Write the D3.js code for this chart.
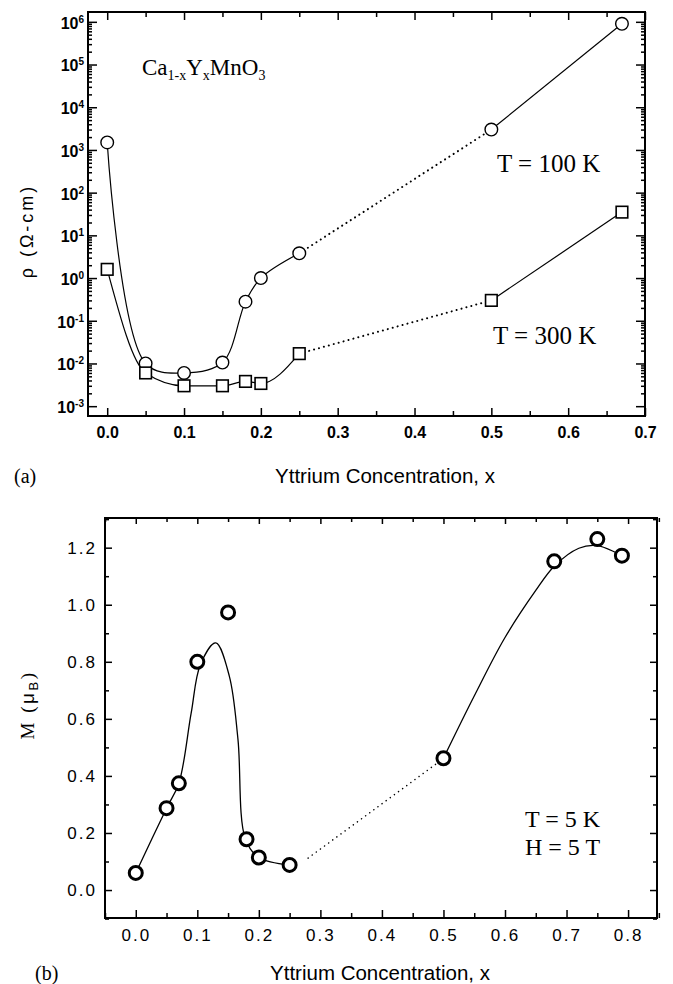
<!DOCTYPE html>
<html>
<head>
<meta charset="utf-8">
<script src="https://cdn.jsdelivr.net/npm/d3@7"></script>
<style>
  body { margin: 0; background: #fff; }
  .sans { font-family: "Liberation Sans", Arial, sans-serif; }
  .serif { font-family: "Liberation Serif", "Times New Roman", serif; }
</style>
</head>
<body>
<svg id="chart" width="673" height="984"></svg>
<script>
// ---- panel (a): resistivity vs Y concentration ----
const rhoX   = [0.00, 0.05, 0.10, 0.15, 0.18, 0.20, 0.25, 0.50, 0.67];
const rho100 = [1.5e3, 1.0e-2, 6.0e-3, 1.05e-2, 0.28, 1.0, 3.8, 3.0e3, 9.0e5];
const rho300 = [1.6, 6.0e-3, 3.0e-3, 3.0e-3, 3.8e-3, 3.4e-3, 1.7e-2, 0.3, 35];
const rhoXTicks = [0, 0.1, 0.2, 0.3, 0.4, 0.5, 0.6, 0.7];
const rhoDecades = [-3, -2, -1, 0, 1, 2, 3, 4, 5, 6];

// ---- panel (b): magnetization at 5 K, 5 T ----
const magX = [0.00, 0.05, 0.07, 0.10, 0.15, 0.18, 0.20, 0.25, 0.50, 0.68, 0.75, 0.79];
const magM = [0.06, 0.287, 0.374, 0.80, 0.973, 0.178, 0.114, 0.088, 0.462, 1.152, 1.23, 1.172];
// guide-to-the-eye curves
const fitLowX  = [0.00, 0.05, 0.07, 0.09, 0.105, 0.13, 0.152, 0.166, 0.178, 0.20, 0.25];
const fitLowM  = [0.06, 0.287, 0.374, 0.62, 0.79, 0.866, 0.75, 0.53, 0.18, 0.114, 0.088];
const fitDotX  = [0.28, 0.49];
const fitDotM  = [0.112, 0.445];
const fitHighX = [0.50, 0.55, 0.60, 0.65, 0.68, 0.72, 0.75, 0.79];
const fitHighM = [0.462, 0.68, 0.885, 1.05, 1.135, 1.198, 1.207, 1.172];
const magXTicks = [0, 0.1, 0.2, 0.3, 0.4, 0.5, 0.6, 0.7, 0.8];
const magYTicks = [0, 0.2, 0.4, 0.6, 0.8, 1.0, 1.2];

const svg = d3.select("#chart");

function frame(g, x0, y0, x1, y1) {
  g.append("rect")
    .attr("x", x0).attr("y", y0)
    .attr("width", x1 - x0).attr("height", y1 - y0)
    .attr("fill", "none").attr("stroke", "#000").attr("stroke-width", 2);
}

// ================= panel (a) =================
{
  const L = 88, R = 645, T = 12, B = 416;
  const x = d3.scaleLinear().domain([-0.025, 0.7]).range([L, R]);
  const y = d3.scaleLog().domain([Math.pow(10, -3.23), Math.pow(10, 6.23)]).range([B, T]);
  const g = svg.append("g");

  const xMinor = d3.range(0, 0.71, 0.05).filter(v => Math.abs(v * 10 - Math.round(v * 10)) > 0.01);
  const yMinor = [];
  rhoDecades.slice(0, -1).forEach(d => { for (let k = 2; k <= 9; k++) yMinor.push(k * Math.pow(10, d)); });

  // bottom axis with labels
  g.append("g").attr("transform", `translate(0,${B})`)
    .call(d3.axisBottom(x).tickValues(rhoXTicks).tickSize(-8).tickPadding(11).tickFormat(d3.format(".1f")))
    .call(a => a.select(".domain").remove())
    .call(a => a.selectAll("text").attr("font-family", null).attr("font-size", null).attr("class", "sans")
      .style("font-size", "16px").style("font-weight", "bold").attr("fill", "#000"));
  g.append("g").attr("transform", `translate(0,${B})`)
    .call(d3.axisBottom(x).tickValues(xMinor).tickSize(-5).tickFormat(""))
    .call(a => a.select(".domain").remove());
  // top axis
  g.append("g").attr("transform", `translate(0,${T})`)
    .call(d3.axisTop(x).tickValues(rhoXTicks).tickSize(-8).tickFormat(""))
    .call(a => a.select(".domain").remove());
  g.append("g").attr("transform", `translate(0,${T})`)
    .call(d3.axisTop(x).tickValues(xMinor).tickSize(-5).tickFormat(""))
    .call(a => a.select(".domain").remove());

  // left axis, decade labels with superscripts
  const left = g.append("g").attr("transform", `translate(${L},0)`)
    .call(d3.axisLeft(y).tickValues(rhoDecades.map(d => Math.pow(10, d))).tickSize(-9).tickFormat(""))
    .call(a => a.select(".domain").remove());
  left.selectAll(".tick").each(function (d, i) {
    const t = d3.select(this).append("text")
      .attr("class", "sans").attr("x", -4).attr("dy", "0.4em")
      .attr("text-anchor", "end").attr("fill", "#000")
      .style("font-size", "16px").style("font-weight", "bold");
    t.append("tspan").text("10");
    t.append("tspan").attr("dy", "-0.6em").style("font-size", "10px").text(rhoDecades[i]);
  });
  g.append("g").attr("transform", `translate(${L},0)`)
    .call(d3.axisLeft(y).tickValues(yMinor).tickSize(-4).tickFormat(""))
    .call(a => a.select(".domain").remove());
  // right axis
  g.append("g").attr("transform", `translate(${R},0)`)
    .call(d3.axisRight(y).tickValues(rhoDecades.map(d => Math.pow(10, d))).tickSize(-9).tickFormat(""))
    .call(a => a.select(".domain").remove());
  g.append("g").attr("transform", `translate(${R},0)`)
    .call(d3.axisRight(y).tickValues(yMinor).tickSize(-4).tickFormat(""))
    .call(a => a.select(".domain").remove());
  g.selectAll(".tick line").attr("stroke", "#000").attr("stroke-width", 1.5);

  frame(g, L, T, R, B);

  const pts = (xs, ys) => xs.map((v, i) => [v, ys[i]]);
  const smooth = d3.line().x(d => x(d[0])).y(d => y(d[1])).curve(d3.curveCatmullRom.alpha(0.5));
  const mono = d3.line().x(d => x(d[0])).y(d => y(d[1])).curve(d3.curveMonotoneX);
  const straight = d3.line().x(d => x(d[0])).y(d => y(d[1]));

  const p100 = pts(rhoX, rho100), p300 = pts(rhoX, rho300);
  const solid = (d, gen) => g.append("path").attr("d", gen(d)).attr("fill", "none").attr("stroke", "#000").attr("stroke-width", 1.2);
  const dotted = d => g.append("path").attr("d", straight(d)).attr("fill", "none").attr("stroke", "#000")
    .attr("stroke-width", 2).attr("stroke-dasharray", "0.1 5").attr("stroke-linecap", "round");

  solid(p100.slice(0, 7), smooth);
  dotted(p100.slice(6, 8));
  solid(p100.slice(7), straight);
  solid(p300.slice(0, 7), mono);
  dotted(p300.slice(6, 8));
  solid(p300.slice(7), straight);

  g.selectAll(".c100").data(p100).join("circle")
    .attr("cx", d => x(d[0])).attr("cy", d => y(d[1])).attr("r", 6.3)
    .attr("fill", "#fff").attr("stroke", "#000").attr("stroke-width", 1.4);
  g.selectAll(".s300").data(p300).join("rect")
    .attr("x", d => x(d[0]) - 5.8).attr("y", d => y(d[1]) - 5.8).attr("width", 11.6).attr("height", 11.6)
    .attr("fill", "#fff").attr("stroke", "#000").attr("stroke-width", 1.6);

  // annotations
  const f = g.append("text").attr("class", "serif").attr("x", 142).attr("y", 75).style("font-size", "23px");
  f.append("tspan").text("Ca");
  f.append("tspan").style("font-size", "14px").attr("dy", 5).text("1-x");
  f.append("tspan").attr("dy", -5).text("Y");
  f.append("tspan").style("font-size", "14px").attr("dy", 5).text("x");
  f.append("tspan").attr("dy", -5).text("MnO");
  f.append("tspan").style("font-size", "14px").attr("dy", 5).text("3");

  g.append("text").attr("class", "serif").attr("x", 497).attr("y", 172).style("font-size", "25px").text("T = 100 K");
  g.append("text").attr("class", "serif").attr("x", 493).attr("y", 344).style("font-size", "25px").text("T = 300 K");

  g.append("text").attr("class", "sans").attr("transform", "translate(33,231) rotate(-90)")
    .attr("text-anchor", "middle").style("font-size", "18px").attr("letter-spacing", 3)
    .text("ρ  (Ω-cm)");
  g.append("text").attr("class", "sans").attr("x", 385).attr("y", 483)
    .attr("text-anchor", "middle").style("font-size", "20.5px").text("Yttrium Concentration, x");
  g.append("text").attr("class", "serif").attr("x", 14).attr("y", 483).style("font-size", "20px").text("(a)");
}

// ================= panel (b) =================
{
  const L = 105, R = 657, T = 518, B = 918;
  const x = d3.scaleLinear().domain([-0.05, 0.847]).range([L, R]);
  const y = d3.scaleLinear().domain([-0.098, 1.304]).range([B, T]);
  const g = svg.append("g");

  const xMinor = d3.range(-0.05, 0.86, 0.1);
  const yMinor = d3.range(-0.1, 1.31, 0.2);

  g.append("g").attr("transform", `translate(0,${B})`)
    .call(d3.axisBottom(x).tickValues(magXTicks).tickSize(-8).tickPadding(11).tickFormat(d3.format(".1f")))
    .call(a => a.select(".domain").remove())
    .call(a => a.selectAll("text").attr("font-family", null).attr("font-size", null).attr("class", "sans")
      .style("font-size", "17px").attr("letter-spacing", 2).attr("fill", "#000"));
  g.append("g").attr("transform", `translate(0,${B})`)
    .call(d3.axisBottom(x).tickValues(xMinor).tickSize(-5).tickFormat(""))
    .call(a => a.select(".domain").remove());
  g.append("g").attr("transform", `translate(0,${T})`)
    .call(d3.axisTop(x).tickValues(magXTicks).tickSize(-6).tickFormat(""))
    .call(a => a.select(".domain").remove());
  g.append("g").attr("transform", `translate(0,${T})`)
    .call(d3.axisTop(x).tickValues(xMinor).tickSize(-4).tickFormat(""))
    .call(a => a.select(".domain").remove());

  g.append("g").attr("transform", `translate(${L},0)`)
    .call(d3.axisLeft(y).tickValues(magYTicks).tickSize(-7).tickPadding(8).tickFormat(d3.format(".1f")))
    .call(a => a.select(".domain").remove())
    .call(a => a.selectAll("text").attr("font-family", null).attr("font-size", null).attr("class", "sans")
      .style("font-size", "17px").attr("letter-spacing", 2).attr("fill", "#000"));
  g.append("g").attr("transform", `translate(${L},0)`)
    .call(d3.axisLeft(y).tickValues(yMinor).tickSize(-4).tickFormat(""))
    .call(a => a.select(".domain").remove());
  g.append("g").attr("transform", `translate(${R},0)`)
    .call(d3.axisRight(y).tickValues(magYTicks).tickSize(-7).tickFormat(""))
    .call(a => a.select(".domain").remove());
  g.append("g").attr("transform", `translate(${R},0)`)
    .call(d3.axisRight(y).tickValues(yMinor).tickSize(-4).tickFormat(""))
    .call(a => a.select(".domain").remove());
  g.selectAll(".tick line").attr("stroke", "#000").attr("stroke-width", 1.5);

  frame(g, L, T, R, B);

  const pts = (xs, ys) => xs.map((v, i) => [v, ys[i]]);
  const smooth = d3.line().x(d => x(d[0])).y(d => y(d[1])).curve(d3.curveCatmullRom.alpha(0.5));
  const straight = d3.line().x(d => x(d[0])).y(d => y(d[1]));

  g.append("path").attr("d", smooth(pts(fitLowX, fitLowM))).attr("fill", "none").attr("stroke", "#000").attr("stroke-width", 1.3);
  g.append("path").attr("d", smooth(pts(fitHighX, fitHighM))).attr("fill", "none").attr("stroke", "#000").attr("stroke-width", 1.3);
  g.append("path").attr("d", straight(pts(fitDotX, fitDotM))).attr("fill", "none").attr("stroke", "#000")
    .attr("stroke-width", 1.5).attr("stroke-dasharray", "0.1 5").attr("stroke-linecap", "round");

  g.selectAll(".m").data(pts(magX, magM)).join("circle")
    .attr("cx", d => x(d[0])).attr("cy", d => y(d[1])).attr("r", 6.5)
    .attr("fill", "#fff").attr("stroke", "#000").attr("stroke-width", 3);

  g.append("text").attr("class", "serif").attr("x", 525).attr("y", 827).style("font-size", "24px").text("T = 5 K");
  g.append("text").attr("class", "serif").attr("x", 525).attr("y", 855).style("font-size", "24px").text("H = 5 T");

  const yl = g.append("text").attr("class", "serif").attr("transform", "translate(34,705) rotate(-90)")
    .attr("text-anchor", "middle").style("font-size", "19px").attr("letter-spacing", 2.5);
  yl.append("tspan").text("M (");
  yl.append("tspan").attr("class", "sans").text("μ");
  yl.append("tspan").attr("class", "sans").style("font-size", "13px").attr("dy", 4).text("B");
  yl.append("tspan").attr("dy", -4).text(")");

  g.append("text").attr("class", "sans").attr("x", 380).attr("y", 980)
    .attr("text-anchor", "middle").style("font-size", "20.5px").text("Yttrium Concentration, x");
  g.append("text").attr("class", "serif").attr("x", 35).attr("y", 980).style("font-size", "20px").text("(b)");
}
</script>
</body>
</html>
